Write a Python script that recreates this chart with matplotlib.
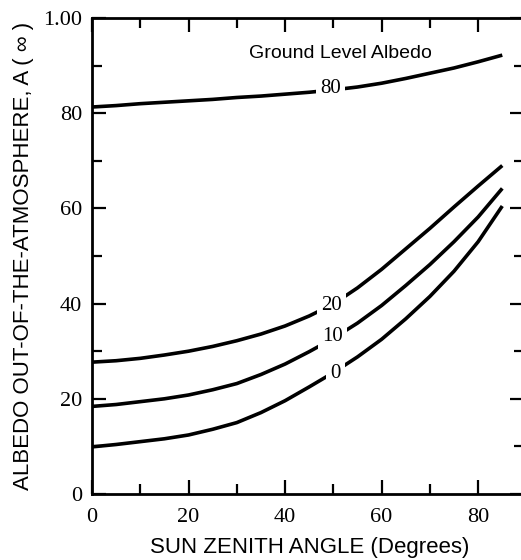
import matplotlib.pyplot as plt
from matplotlib.ticker import MultipleLocator, FixedLocator

# sun zenith angle (degrees)
ANGLE = [0, 5, 10, 15, 20, 25, 30, 35, 40, 45, 50, 55, 60, 65, 70, 75, 80, 85]

# albedo out of the atmosphere for each ground level albedo
ALB_0 = [9.9, 10.4, 11.0, 11.6, 12.4, 13.6, 15.0, 17.1, 19.6, 22.5,
         25.5, 28.8, 32.5, 36.8, 41.5, 46.8, 53.0, 60.5]
ALB_10 = [18.4, 18.8, 19.4, 20.0, 20.8, 21.9, 23.2, 25.1, 27.3, 29.9,
          32.7, 35.9, 39.6, 43.8, 48.2, 53.0, 58.2, 64.2]
ALB_20 = [27.7, 28.0, 28.5, 29.2, 30.0, 31.0, 32.2, 33.6, 35.3, 37.4,
          39.9, 43.3, 47.2, 51.5, 55.8, 60.3, 64.7, 69.0]
ALB_80 = [81.3, 81.6, 82.0, 82.3, 82.6, 82.9, 83.3, 83.6, 84.0, 84.4,
          84.9, 85.5, 86.3, 87.3, 88.4, 89.5, 90.8, 92.2]

CURVE_LABELS = ["0", "10", "20", "80"]
LABEL_POS = [(50.5, 25.4), (49.9, 33.0), (49.7, 39.6), (49.5, 85.1)]

X_TICKS = [0, 20, 40, 60, 80]
Y_TICKS = [0, 20, 40, 60, 80, 100]
Y_TICK_LABELS = ["0", "20", "40", "60", "80", "1.00"]

SERIF = "Liberation Serif"
SANS = "Liberation Sans"

fig = plt.figure(figsize=(5.21, 5.60), dpi=100)
ax = fig.add_axes([92 / 521, 66 / 560, 432 / 521, 476 / 560])

for vals in [ALB_0, ALB_10, ALB_20, ALB_80]:
    ax.plot(ANGLE, vals, color="black", lw=2.6, solid_capstyle="butt")

for lab, (x, y) in zip(CURVE_LABELS, LABEL_POS):
    ax.text(x, y, lab, fontsize=15, family=SERIF, ha="center", va="center",
            bbox=dict(facecolor="white", edgecolor="none", pad=3), zorder=5)

ax.text(51.5, 92.5, "Ground Level Albedo", fontsize=14, family=SANS,
        ha="center", va="center")

ax.set_xlim(0, 89.5)
ax.set_ylim(0, 100)
ax.spines["right"].set_visible(False)
for s in ["left", "top", "bottom"]:
    ax.spines[s].set_linewidth(2)

ax.xaxis.set_major_locator(FixedLocator(X_TICKS))
ax.xaxis.set_minor_locator(MultipleLocator(10))
ax.yaxis.set_major_locator(FixedLocator(Y_TICKS))
ax.yaxis.set_minor_locator(MultipleLocator(10))
ax.set_yticklabels(Y_TICK_LABELS)

ax.tick_params(which="both", direction="in", top=True, right=True,
               color="black", width=1.6)
ax.tick_params(which="major", length=10)
ax.tick_params(which="minor", length=7)
ax.tick_params(axis="x", which="major", pad=10)
ax.tick_params(axis="y", which="major", pad=7)
for lbl in ax.get_xticklabels() + ax.get_yticklabels():
    lbl.set_family(SERIF)
    lbl.set_fontsize(16)

fig.text(24 / 521, 1 - 256 / 560, "ALBEDO OUT-OF-THE-ATMOSPHERE, A ( \u221e )",
         rotation=90, fontsize=16, family=SANS, ha="center", va="center")
fig.text(310 / 521, 1 - 548 / 560, "SUN ZENITH ANGLE (Degrees)",
         fontsize=16, family=SANS, ha="center", va="center")

fig.savefig("out.png", dpi=100)
